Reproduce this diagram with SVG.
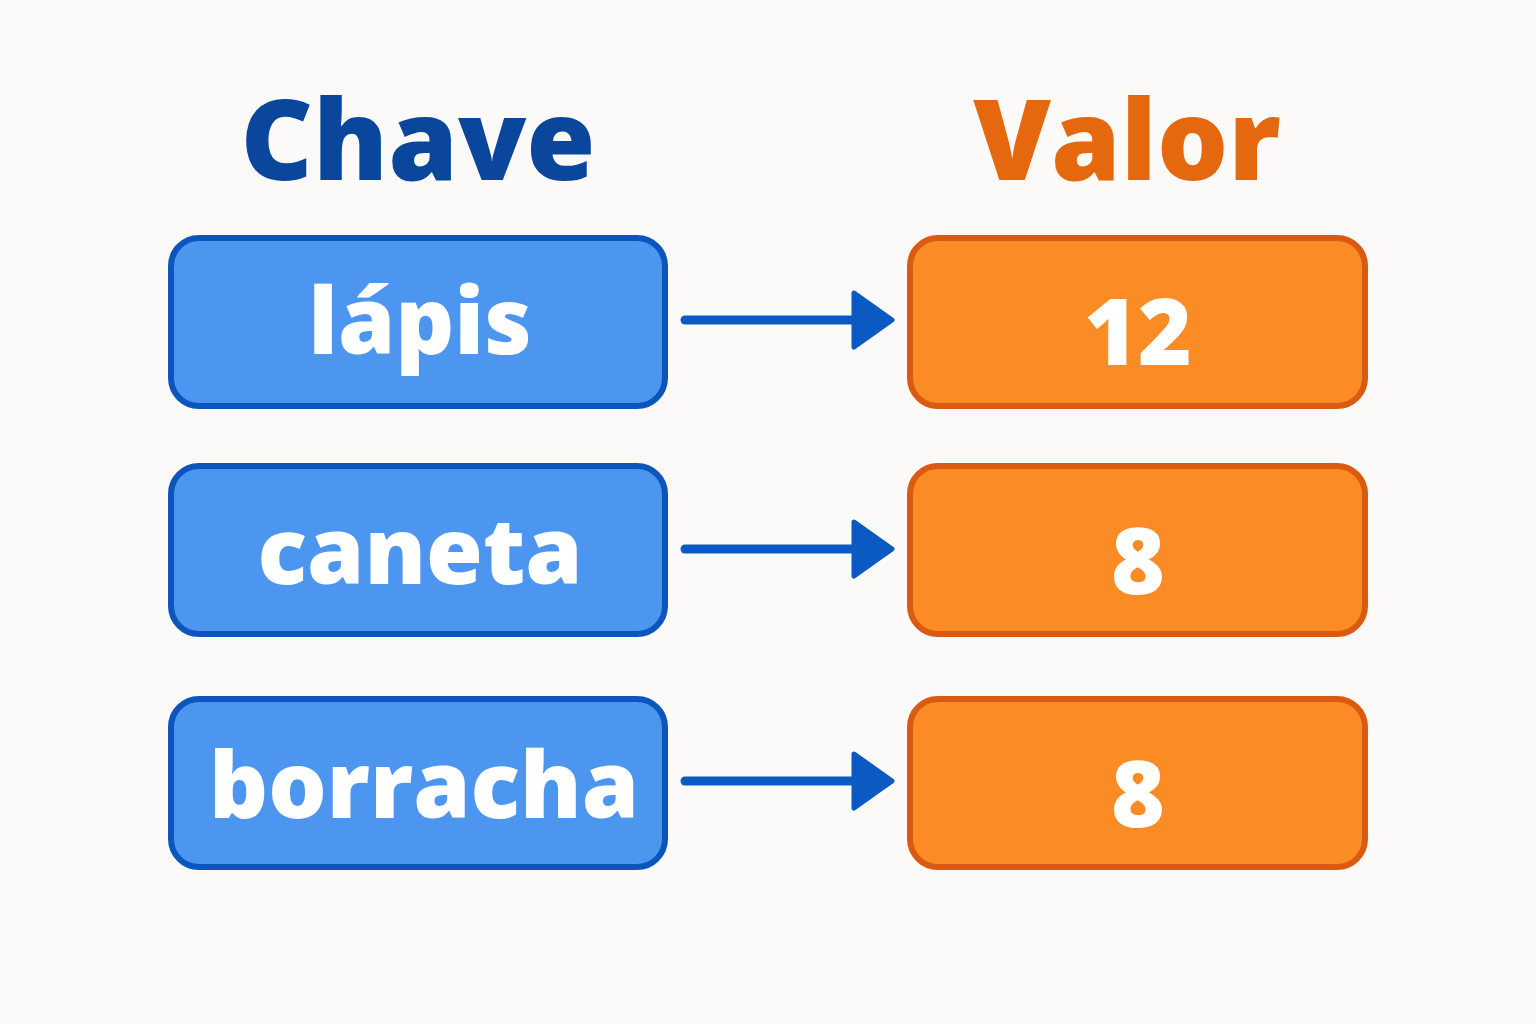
<svg xmlns="http://www.w3.org/2000/svg" width="1536" height="1024" viewBox="0 0 1536 1024">
<style>
.k rect{fill:#4d96f0;stroke:#0b55bd;stroke-width:6}
.v rect{fill:#fb8c25;stroke:#d95a10;stroke-width:6}
.t{font-family:"Open Sans","Liberation Sans",sans-serif;font-weight:800;fill:#fff;font-size:92px;text-anchor:middle}
.h{font-family:"Open Sans","Liberation Sans",sans-serif;font-weight:800;font-size:112px;text-anchor:middle}
.c line{stroke:#0b5ac4;stroke-width:9;stroke-linecap:round}
.c path{fill:#0b5ac4;stroke:#0b5ac4;stroke-width:5;stroke-linejoin:round}
</style>
<rect width="1536" height="1024" fill="#fbfaf8"/>
<text class="h" x="418" y="180" fill="#0a479c">Chave</text>
<text class="h" x="1127" y="180" fill="#e5680f">Valor</text>
<g id="k1" class="k"><rect x="171" y="238" width="494" height="168" rx="28"/><text class="t" x="420" y="354">lápis</text></g>
<g id="k2" class="k"><rect x="171" y="466" width="494" height="168" rx="28"/><text class="t" x="420" y="584">caneta</text></g>
<g id="k3" class="k"><rect x="171" y="699" width="494" height="168" rx="28"/><text class="t" x="424" y="818">borracha</text></g>
<g id="v1" class="v"><rect x="910" y="238" width="455" height="168" rx="28"/><text class="t" x="1138" y="365">12</text></g>
<g id="v2" class="v"><rect x="910" y="466" width="455" height="168" rx="28"/><text class="t" x="1138" y="594">8</text></g>
<g id="v3" class="v"><rect x="910" y="699" width="455" height="168" rx="28"/><text class="t" x="1138" y="827">8</text></g>
<g id="connectors" class="c">
<line x1="685" y1="320" x2="855" y2="320"/><path d="M854,293 L892,320 L854,347 Z"/>
<line x1="685" y1="549" x2="855" y2="549"/><path d="M854,522 L892,549 L854,576 Z"/>
<line x1="685" y1="781" x2="855" y2="781"/><path d="M854,754 L892,781 L854,808 Z"/>
</g>
</svg>
